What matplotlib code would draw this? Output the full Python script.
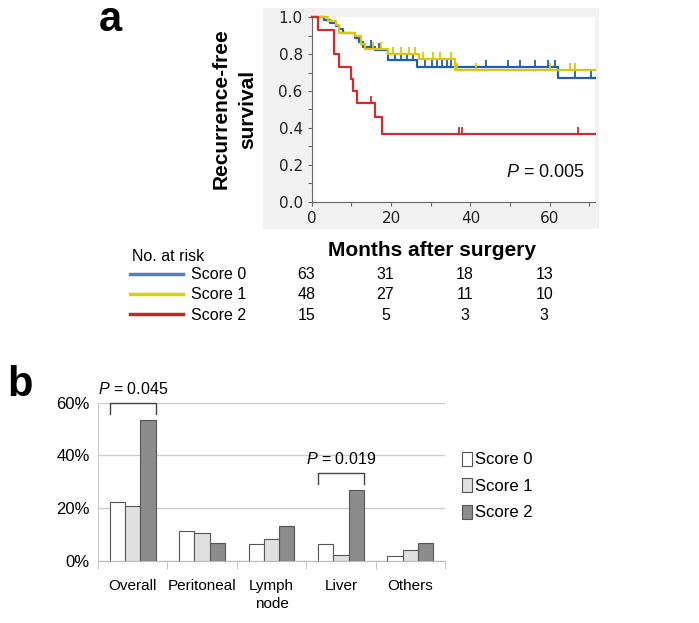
import numpy as np
import matplotlib.pyplot as plt
import matplotlib.patches as mpatches
import matplotlib.transforms as mtransforms

plt.rcParams['font.family'] = ['Liberation Sans', 'DejaVu Sans']
plt.rcParams['mathtext.fontset'] = 'custom'
plt.rcParams['mathtext.it'] = 'Liberation Sans:italic'
plt.rcParams['mathtext.rm'] = 'Liberation Sans'

# ---- panel a: Kaplan-Meier curves
score0_t = [0, 3, 4.5, 6, 7, 8, 11, 12, 13, 16, 19.3, 26.5, 62.1]
score0_s = [1.0, 0.984, 0.968, 0.952, 0.935, 0.913, 0.89, 0.866, 0.84, 0.82, 0.767, 0.732, 0.669]
score0_cens = [15, 17, 21, 22.5, 24, 25.5, 28.6, 30.3, 31.5, 32.8, 34, 35, 44, 49.5, 52.4,
               56.2, 59.5, 61.3, 66.3, 70.5]

score1_t = [0, 4, 6, 7, 11, 12.5, 13.5, 19.3, 27, 36.1]
score1_s = [1.0, 0.979, 0.958, 0.917, 0.896, 0.854, 0.826, 0.80, 0.772, 0.714]
score1_cens = [15.5, 17.5, 20.5, 22.5, 24.5, 26, 28, 30.5, 32.3, 35, 36.5, 41.5, 60, 65, 66.3]

score2_t = [0, 1.7, 5.6, 6.9, 9.8, 10.3, 11.3, 16.0, 17.6]
score2_s = [1.0, 0.933, 0.8, 0.733, 0.667, 0.6, 0.533, 0.457, 0.365]
score2_cens = [15, 37, 38, 67]

risk_times = [0, 20, 40, 60]
risk_labels = ['Score 0', 'Score 1', 'Score 2']
risk_counts = [[63, 31, 18, 13],
               [48, 27, 11, 10],
               [15, 5, 3, 3]]
p_km = '$P$ = 0.005'

# ---- panel b: recurrence sites
sites = ['Overall', 'Peritoneal', 'Lymph\nnode', 'Liver', 'Others']
pct_score0 = [22.2, 11.1, 6.3, 6.3, 1.6]
pct_score1 = [20.8, 10.4, 8.3, 2.1, 4.2]
pct_score2 = [53.3, 6.7, 13.3, 26.7, 6.7]
bar_labels = ['Score 0', 'Score 1', 'Score 2']
brackets = [(0, 60, 55.7, '$P$ = 0.045'), (3, 33.4, 29.1, '$P$ = 0.019')]

W, H = 699, 623
fig = plt.figure(figsize=(W / 100, H / 100), dpi=100)


def fx(px):
    return px / W


def fy(py):
    return 1 - py / H


# grey panel behind the KM plot
fig.patches.append(mpatches.Rectangle((fx(263), fy(229)), fx(599) - fx(263), fy(8) - fy(229),
                                      transform=fig.transFigure, facecolor='#f2f2f2',
                                      edgecolor='none', zorder=-10))

ax = fig.add_axes([fx(311.7), fy(201.7), fx(595) - fx(311.7), fy(17.3) - fy(201.7)])
ax.set_zorder(2)
xmax = 71.4
ax.set_xlim(0, xmax)
ax.set_ylim(0, 1.0)
ax.set_facecolor('white')

km_colors = ['#1f5fb2', '#dcc800', '#d22b2b']
groups = [(score0_t, score0_s, score0_cens), (score1_t, score1_s, score1_cens),
          (score2_t, score2_s, score2_cens)]
for (t, s, cens), col in zip(groups, km_colors):
    tt = list(t) + [xmax]
    ss = list(s) + [s[-1]]
    ax.step(tt, ss, where='post', color=col, lw=1.6, clip_on=False, zorder=3)
    idx = np.searchsorted(t, cens, side='right') - 1
    cy = np.array(s)[idx]
    ax.vlines(cens, cy, cy + 0.038, color=col, lw=1.3, zorder=3)

for side in ['top', 'right']:
    ax.spines[side].set_visible(False)
for side in ['left', 'bottom']:
    ax.spines[side].set_color('#666666')
    ax.spines[side].set_linewidth(0.8)
ax.set_xticks([0, 20, 40, 60])
ax.set_xticks([10, 30, 50, 70], minor=True)
ax.set_yticks(np.arange(0, 1.01, 0.2))
ax.set_yticks(np.arange(0.1, 1.0, 0.2), minor=True)
ax.set_yticklabels(['0.0', '0.2', '0.4', '0.6', '0.8', '1.0'])
ax.tick_params(which='both', direction='out', color='#666666', length=3, width=0.8)
ax.tick_params(labelsize=11, labelcolor='#222222')
for lab in ax.get_xticklabels() + ax.get_yticklabels():
    lab.set_fontfamily('DejaVu Sans')
ax.text(0.965, 0.16, p_km, transform=ax.transAxes, ha='right', va='center',
        fontsize=13, color='#111111')

fig.text(fx(221), fy(109), 'Recurrence-free', rotation=90, ha='center', va='center',
         fontsize=15, fontweight='bold')
fig.text(fx(248), fy(109), 'survival', rotation=90, ha='center', va='center',
         fontsize=15, fontweight='bold')
fig.text(fx(432), fy(250), 'Months after surgery', ha='center', va='center',
         fontsize=15, fontweight='bold')
fig.text(fx(110), fy(20), 'a', ha='center', va='center', fontsize=30, fontweight='bold')

# number at risk table
fig.text(fx(132), fy(256), 'No. at risk', ha='left', va='center', fontsize=11.5)
tab_colors = ['#4f81c6', '#d8d400', '#c8281e']
row_y = [275, 295, 315]
blend = mtransforms.blended_transform_factory(ax.transData, fig.transFigure)
for lab, counts, col, py in zip(risk_labels, risk_counts, tab_colors, row_y):
    fig.add_artist(plt.Line2D([fx(130), fx(183)], [fy(py - 1), fy(py - 1)], color=col, lw=2.5,
                              transform=fig.transFigure))
    fig.text(fx(191), fy(py), lab, ha='left', va='center', fontsize=11.5)
    for tm, n in zip(risk_times, counts):
        fig.text(0, fy(py), str(n), transform=blend, ha='center', va='center',
                 fontsize=11.5).set_x(tm - 1.4)

# ---- panel b
bx = fig.add_axes([fx(98), fy(560.7), fx(445) - fx(98), fy(402.7) - fy(560.7)])
x = np.arange(len(sites))
bw = 0.22
bar_colors = ['#ffffff', '#e0e0e0', '#8c8c8c']
for k, (vals, col, lab) in enumerate(zip([pct_score0, pct_score1, pct_score2], bar_colors,
                                         bar_labels)):
    bx.bar(x + (k - 1) * bw, vals, bw, color=col, edgecolor='#555555', linewidth=0.8,
           label=lab, zorder=3)
bx.set_xlim(-0.5, len(sites) - 0.5)
bx.set_ylim(0, 60)
bx.set_yticks([0, 20, 40, 60])
bx.set_yticklabels(['0%', '20%', '40%', '60%'], fontsize=12)
bx.yaxis.grid(True, color='#cccccc', lw=1)
bx.set_axisbelow(True)
for side in ['top', 'right']:
    bx.spines[side].set_visible(False)
bx.spines['left'].set_color('#cccccc')
bx.spines['bottom'].set_color('#bbbbbb')
bx.spines['left'].set_bounds(-2.5, 60)
bx.set_xticks(x)
bx.set_xticklabels(sites, fontsize=11, linespacing=1.35, va='top')
bx.set_xticks(np.arange(-0.5, len(sites), 1), minor=True)
bx.tick_params(axis='x', which='major', length=0, pad=13)
bx.tick_params(axis='x', which='minor', length=6, color='#bbbbbb')
bx.tick_params(axis='y', length=0, pad=6)

for gi, ytop, yleg, txt in brackets:
    x0, x1 = gi - 1.5 * bw, gi + 1.5 * bw
    bx.plot([x0, x0, x1, x1], [yleg, ytop, ytop, yleg], color='#444444', lw=1,
            clip_on=False, zorder=4)
    bx.text(gi, ytop + 5.2, txt, ha='center', va='center', fontsize=11.5)

bx.legend(loc='center left', bbox_to_anchor=(fx(462), fy(486)),
          bbox_transform=fig.transFigure, frameon=False, handlelength=0.6,
          handleheight=0.9, handletextpad=0.2, labelspacing=0.65,
          borderpad=0, borderaxespad=0, prop={'size': 12})
fig.text(fx(20), fy(385), 'b', ha='center', va='center', fontsize=30, fontweight='bold')

fig.savefig('out.png', dpi=100)
